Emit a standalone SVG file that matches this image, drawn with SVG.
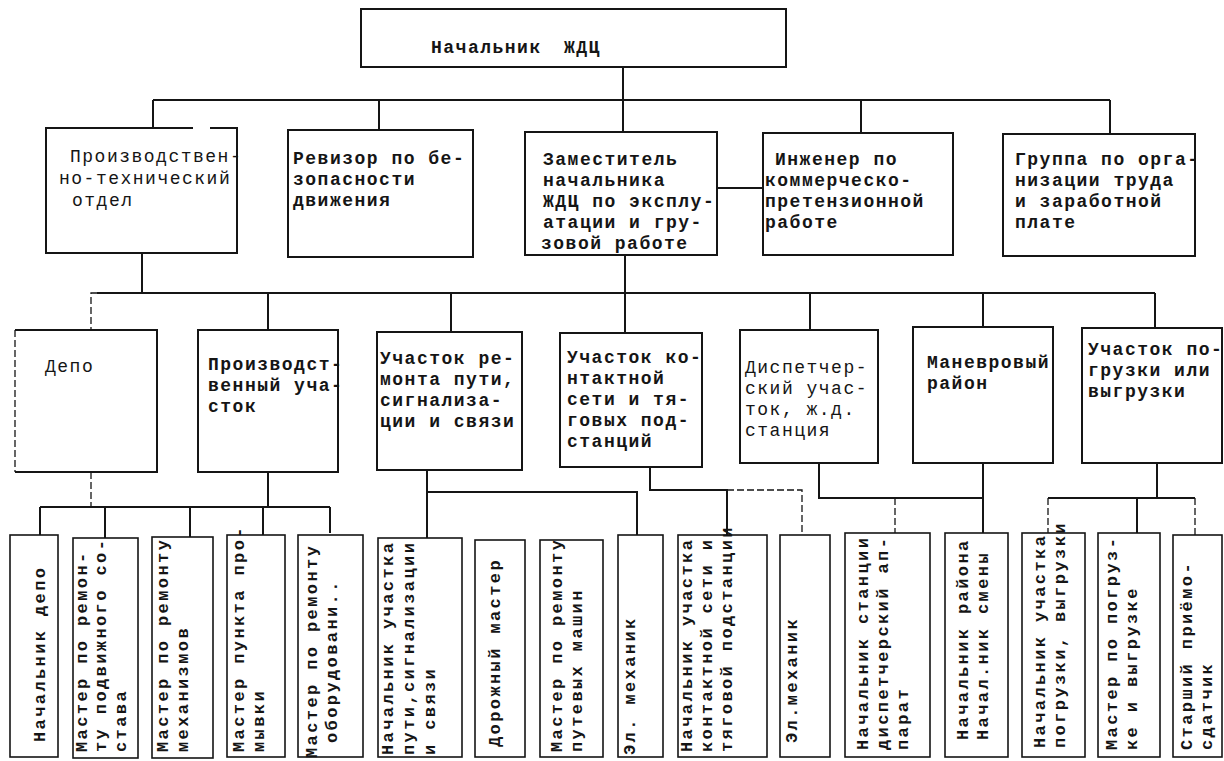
<svg xmlns="http://www.w3.org/2000/svg" width="1224" height="761" viewBox="0 0 1224 761">
<style>
.box{fill:none;stroke:#151515;stroke-width:2}
.bx{fill:none;stroke:#151515;stroke-width:1.6}
.ln{fill:none;stroke:#151515;stroke-width:2}
.dl{fill:none;stroke:#151515;stroke-width:1.3;stroke-dasharray:7 3}
text{font-family:"Liberation Mono","DejaVu Sans Mono",monospace;font-size:18px;letter-spacing:1.5px;font-weight:bold;fill:#151515}
.n{font-weight:normal}
.v{font-size:17px;letter-spacing:2.4px}
</style>
<rect width="1224" height="761" fill="#fff"/>
<g id="connectors">
<path class="ln" d="M623 67V132M153 100H1110M153 100V128M379 100V130M861 100V133M1110 100V134"/>
<path class="ln" d="M717 188H763"/>
<path class="ln" d="M142 253V293M625 255V333M97 293H1155M268 293V330M451 293V332M810 293V330M983 293V327M1155 293V328"/>
<path class="dl" d="M97 293H91V330"/>
<path class="dl" d="M91 472V507"/>
<path class="ln" d="M268 472V507M40 507H330M40 507V535M105 507V538M190 507V537M263 507V535M330 507V533"/>
<path class="ln" d="M427 470V538M427 492H637V535"/>
<path class="ln" d="M650 467V490H727V535"/>
<path class="dl" d="M727 490H802V535"/>
<path class="ln" d="M819 463V498H983M983 463V533"/>
<path class="dl" d="M895 498V533"/>
<path class="ln" d="M1157 463V498M1048 498H1195M1137 498V533"/>
<path class="dl" d="M1048 498V533M1195 498V535"/>
</g>
<g id="n0"><rect class="box" x="361" y="9" width="425" height="58"/><text x="431" y="53">Начальник <tspan x="564">ЖДЦ</tspan></text></g>
<g id="n1"><path class="box" d="M193 128H46V253H237V128H210"/><text class="n" x="70" y="162">Производствен-</text><text class="n" x="59" y="184">но-технический</text><text class="n" x="72" y="206">отдел</text></g>
<g id="n2"><rect class="box" x="288" y="130" width="185" height="127"/><text x="293" y="164">Ревизор по бе-</text><text x="293" y="185">зопасности</text><text x="293" y="206">движения</text></g>
<g id="n3"><rect class="box" x="525" y="132" width="192" height="123"/><text x="543" y="165">Заместитель</text><text x="543" y="186">начальника</text><text x="543" y="207">ЖДЦ по эксплу-</text><text x="543" y="228">атации и гру-</text><text x="541" y="249">зовой работе</text></g>
<g id="n4"><rect class="box" x="763" y="133" width="190" height="122"/><text x="775" y="165">Инженер по</text><text x="765" y="186">коммерческо-</text><text x="765" y="207">претензионной</text><text x="765" y="228">работе</text></g>
<g id="n5"><rect class="box" x="1003" y="134" width="192" height="122"/><text x="1015" y="165">Группа по орга-</text><text x="1015" y="186">низации труда</text><text x="1015" y="207">и заработной</text><text x="1015" y="228">плате</text></g>
<g id="r1"><path class="box" d="M15 330H157V472H15"/><path class="dl" d="M15 330V472"/><text class="n" x="45" y="372">Депо</text></g>
<g id="r2"><rect class="box" x="198" y="330" width="140" height="142"/><text x="208" y="370">Производст-</text><text x="208" y="391">венный уча-</text><text x="208" y="412">сток</text></g>
<g id="r3"><rect class="box" x="377" y="332" width="145" height="138"/><text x="380" y="364">Участок ре-</text><text x="380" y="385">монта пути,</text><text x="380" y="406">сигнализа-</text><text x="380" y="427">ции и связи</text></g>
<g id="r4"><rect class="box" x="560" y="333" width="142" height="134"/><text x="567" y="363">Участок ко-</text><text x="567" y="384">нтактной</text><text x="567" y="405">сети и тя-</text><text x="567" y="426">говых под-</text><text x="567" y="447">станций</text></g>
<g id="r5"><rect class="box" x="740" y="330" width="138" height="133"/><text class="n" x="745" y="373">Диспетчер-</text><text class="n" x="745" y="394">ский учас-</text><text class="n" x="745" y="415">ток, ж.д.</text><text class="n" x="745" y="436">станция</text></g>
<g id="r6"><rect class="box" x="913" y="327" width="140" height="136"/><text x="927" y="368">Маневровый</text><text x="927" y="389">район</text></g>
<g id="r7"><rect class="box" x="1082" y="328" width="140" height="135"/><text x="1088" y="355">Участок по-</text><text x="1088" y="376">грузки или</text><text x="1088" y="397">выгрузки</text></g>
<g id="b1"><rect class="bx" x="10" y="535" width="48" height="222"/><text class="v" transform="translate(45 742) rotate(-90)">Начальник депо</text></g>
<g id="b2"><rect class="bx" x="73" y="538" width="65" height="220"/><text class="v" transform="translate(87 752) rotate(-90)">Мастер по ремон-</text><text class="v" transform="translate(106 752) rotate(-90)">ту подвижного со-</text><text class="v" transform="translate(126 752) rotate(-90)">става</text></g>
<g id="b3"><rect class="bx" x="152" y="537" width="61" height="221"/><text class="v" transform="translate(168 752) rotate(-90)">Мастер по ремонту</text><text class="v" transform="translate(188 752) rotate(-90)">механизмов</text></g>
<g id="b4"><rect class="bx" x="227" y="535" width="58" height="222"/><text class="v" transform="translate(244 752) rotate(-90)">Мастер пункта про-</text><text class="v" transform="translate(264 752) rotate(-90)">мывки</text></g>
<g id="b5"><rect class="bx" x="298" y="535" width="65" height="222"/><text class="v" transform="translate(317 758) rotate(-90)">Мастер по ремонту</text><text class="v" transform="translate(337 743) rotate(-90)">оборудовани..</text></g>
<g id="b6"><rect class="bx" x="378" y="538" width="84" height="219"/><text class="v" transform="translate(393 755) rotate(-90)">Начальник участка</text><text class="v" transform="translate(414 755) rotate(-90)">пути,сигнализации</text><text class="v" transform="translate(435 755) rotate(-90)">и связи</text></g>
<g id="b7"><rect class="bx" x="475" y="540" width="50" height="217"/><text class="v" transform="translate(500 747) rotate(-90)">Дорожный мастер</text></g>
<g id="b8"><rect class="bx" x="540" y="540" width="63" height="217"/><text class="v" transform="translate(562 752) rotate(-90)">Мастер по ремонту</text><text class="v" transform="translate(582 752) rotate(-90)">путевых машин</text></g>
<g id="b9"><rect class="bx" x="618" y="535" width="45" height="222"/><text class="v" transform="translate(635 755) rotate(-90)">Эл. механик</text></g>
<g id="b10"><rect class="bx" x="678" y="535" width="89" height="222"/><text class="v" transform="translate(692 752) rotate(-90)">Начальник участка</text><text class="v" transform="translate(712 752) rotate(-90)">контактной сети и</text><text class="v" transform="translate(732 752) rotate(-90)">тяговой подстанции</text></g>
<g id="b11"><rect class="bx" x="780" y="535" width="50" height="222"/><text class="v" transform="translate(797 743) rotate(-90)">Эл.механик</text></g>
<g id="b12"><rect class="bx" x="845" y="533" width="85" height="224"/><text class="v" transform="translate(868 750) rotate(-90)">Начальник станции</text><text class="v" transform="translate(888 750) rotate(-90)">диспетчерский ап-</text><text class="v" transform="translate(908 750) rotate(-90)">парат</text></g>
<g id="b13"><rect class="bx" x="945" y="533" width="63" height="224"/><text class="v" transform="translate(968 740) rotate(-90)">Начальник района</text><text class="v" transform="translate(988 740) rotate(-90)">Начал.ник смены</text></g>
<g id="b14"><rect class="bx" x="1022" y="533" width="63" height="224"/><text class="v" transform="translate(1045 748) rotate(-90)">Начальник участка</text><text class="v" transform="translate(1065 748) rotate(-90)">погрузки, выгрузки</text></g>
<g id="b15"><rect class="bx" x="1098" y="533" width="62" height="224"/><text class="v" transform="translate(1117 750) rotate(-90)">Мастер по погруз-</text><text class="v" transform="translate(1137 750) rotate(-90)">ке и выгрузке</text></g>
<g id="b16"><rect class="bx" x="1173" y="535" width="49" height="222"/><text class="v" transform="translate(1192 750) rotate(-90)">Старший приёмо-</text><text class="v" transform="translate(1212 750) rotate(-90)">сдатчик</text></g>
</svg>
